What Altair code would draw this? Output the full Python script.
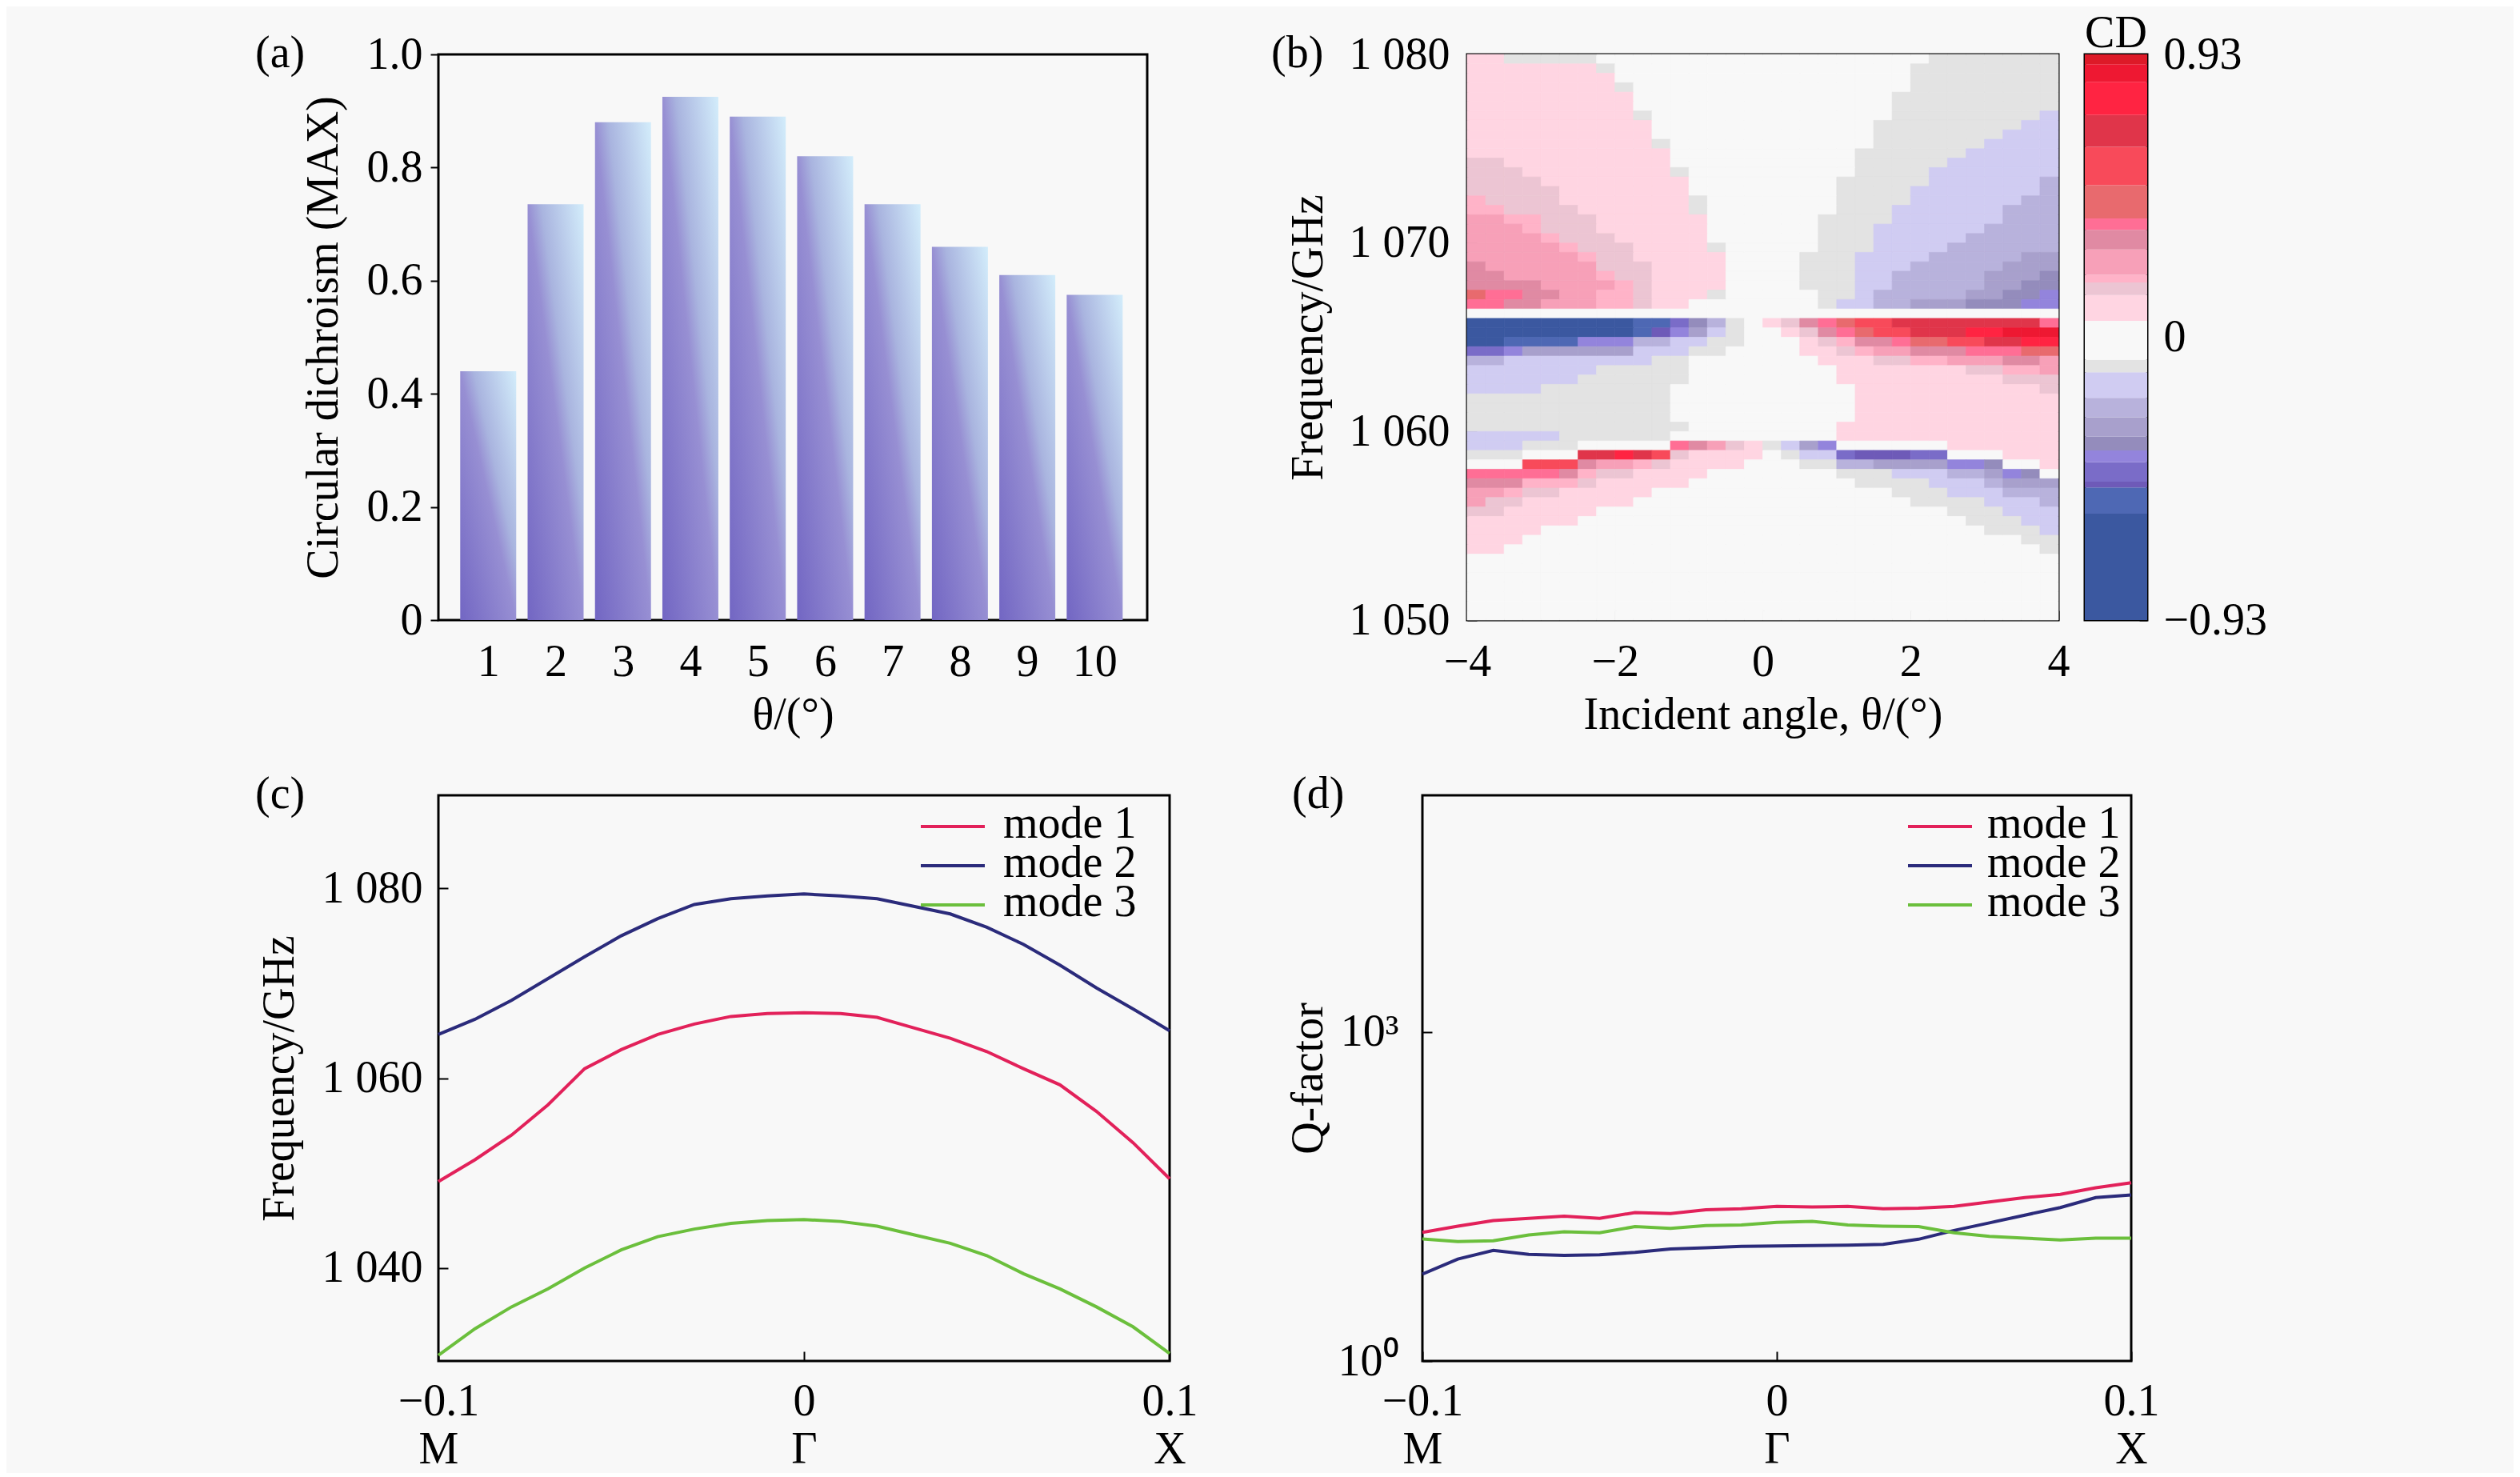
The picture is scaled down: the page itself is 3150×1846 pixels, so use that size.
import altair as alt
import pandas as pd

FONT = "Liberation Serif"
FS = 56
BG = "#f8f8f8"

# ---------------- (a) maximum circular dichroism vs angle ----------------
theta_a = [1, 2, 3, 4, 5, 6, 7, 8, 9, 10]
cd_max_a = [0.44, 0.735, 0.88, 0.925, 0.89, 0.82, 0.735, 0.66, 0.61, 0.575]
y_ticks_a = [0, 0.2, 0.4, 0.6, 0.8, 1.0]

# ---------------- (b) CD map: incident angle x frequency ----------------
theta_ticks_b = [-4, -2, 0, 2, 4]
freq_ticks_b = [1050, 1060, 1070, 1080]
cell_dtheta = 0.25     # degrees per column (32 columns from -4 to 4)
cell_dfreq = 0.5       # GHz per row (60 rows from 1080 down to 1050)
level_codes = list("cdefghijkl0LKJIHGFEDCBA")
level_values = [-0.75, -0.54, -0.485, -0.44, -0.39, -0.35, -0.295, -0.23, -0.155, -0.095,
                0.0, 0.10, 0.16, 0.19, 0.25, 0.32, 0.37, 0.45, 0.56, 0.68, 0.78, 0.87, 0.92]
# CD level, one string per row (top row = 1080 GHz)
cd_rows = [
    "LLlllll000000000" + "000000000lllllll",
    "LLLLLLLl00000000" + "00000000llllllll",
    "LLLLLLLL00000000" + "00000000llllllll",
    "LLLLLLLLl0000000" + "00000000llllllll",
    "LLLLLLLLL0000000" + "0000000lllllllll",
    "LLLLLLLLL0000000" + "0000000lllllllll",
    "LLLLLLLLLl000000" + "0000000llllllllk",
    "LLLLLLLLLL000000" + "000000llllllllkk",
    "LLLLLLLLLL000000" + "000000lllllllkkk",
    "LLLLLLLLLLl00000" + "000000llllllkkkk",
    "LLLLLLLLLLL00000" + "00000llllllkkkkk",
    "KKLLLLLLLLL00000" + "00000lllllkkkkkk",
    "KKKLLLLLLLLl0000" + "00000llllkkkkkkk",
    "KKKKLLLLLLLL0000" + "0000lllllkkkkkkj",
    "KKKKKLLLLLLL0000" + "0000llllkkkkkkkj",
    "JKKKKLLLLLLLl000" + "0000llllkkkkkkjj",
    "JJKKKKLLLLLLl000" + "0000lllkkkkkkjjj",
    "IIJJKKKLLLLLL000" + "000llllkkkkkkjjj",
    "IIIJKKKLLLLLL000" + "000lllkkkkkkjjjj",
    "IIIIJKKKLLLLL000" + "000lllkkkkkjjjjj",
    "IIIIIJKKKLLLLl00" + "000lllkkkkjjjjjj",
    "IIIIIIJKKLLLLL00" + "00lllkkkkjjjjjii",
    "HIIIIIIKKKLLLL00" + "00lllkkkjjjjjiii",
    "HHIIIIIJKKLLLL00" + "00lllkkjjjjjiiih",
    "HHHHIIIIJKLLLL00" + "00lllkkjjjjjiihh",
    "FGGHHIIJJKLLLl00" + "000llkjjjjjiihhg",
    "GGHHIIIJJKLL0000" + "000lkkjjiiihhhgg",
    "0000000000000000" + "0000000000000000",
    "cccccccccddfhjl0" + "LKHGFEEDDDDDDDDG",
    "cccccccccdegikl0" + "0LKHGFEEDDDCCBBB",
    "ccddddgggjjkkll0" + "00LKJHHGFFEEDDCC",
    "ffgiiiiiikkkll00" + "00LLKJIIHHHGGGFF",
    "jjkkkkkkkkll0000" + "000LLLKKJJIIIHHI",
    "kkkkkkklllll0000" + "0000LLLLLLLKKJJI",
    "kkkkkkllllll0000" + "0000LLLLLLLLLKKK",
    "kkkklllllll00000" + "00000LLLLLLLLLLK",
    "lllllllllll00000" + "00000LLLLLLLLLLL",
    "lllllllllll00000" + "00000LLLLLLLLLLL",
    "lllllllllll00000" + "00000LLLLLLLLLLL",
    "llllllllllll0000" + "0000LLLLLLLLLLLL",
    "kkkkkllllll00000" + "0000LLLLLLLLLLLL",
    "kkklll00000GHIKL" + "lkig000000LLLLLL",
    "lll000DDCDEKLLLL" + "0lkkfeeeff000LLL",
    "000EEEHIIJKLLLL0" + "00lljjiiiiggh00L",
    "GGGGGHJKKLLLL000" + "0000lllkkkjjigh0",
    "HHHJJJKLLLLL0000" + "00000llllkkkjiii",
    "IIJKKLLLLL000000" + "0000000lllkkkjjj",
    "IKKLLLLLL0000000" + "00000000llllkkkj",
    "KKLLLLL000000000" + "0000000000lllkkk",
    "LLLLLL0000000000" + "00000000000lllkk",
    "LLLL000000000000" + "000000000000lllk",
    "LLL0000000000000" + "00000000000000ll",
    "LL00000000000000" + "000000000000000l",
    "0000000000000000" + "0000000000000000",
    "0000000000000000" + "0000000000000000",
    "0000000000000000" + "0000000000000000",
    "0000000000000000" + "0000000000000000",
    "0000000000000000" + "0000000000000000",
    "0000000000000000" + "0000000000000000",
    "0000000000000000" + "0000000000000000",
]
cb_edges = [-0.93, -0.58, -0.494, -0.475, -0.411, -0.372, -0.327, -0.263, -0.199, -0.115, -0.074,
            0.054, 0.139, 0.18, 0.205, 0.289, 0.353, 0.391, 0.5, 0.626, 0.731, 0.84, 0.898, 0.93]
cb_colors = ["#3b58a0", "#4e68b4", "#6e5ab8", "#7a6cc8", "#9384dc", "#948cbc", "#a8a0cc", "#b8b2dc",
             "#d0ccf2", "#e3e3e3", "#f8f8f8", "#ffd5e2", "#ecc5d3", "#ffb3c8", "#f7a0b8", "#e08aa3",
             "#ff6e95", "#e86a6e", "#f84a5a", "#e0354a", "#ff2442", "#ee1832", "#dd1a28"]
cb_ticks = [-0.93, 0, 0.93]

# ---------------- (c) band frequencies, (d) Q factors ----------------
k_vals = [-0.1, -0.09, -0.08, -0.07, -0.06, -0.05, -0.04, -0.03, -0.02, -0.01, 0.0,
          0.01, 0.02, 0.03, 0.04, 0.05, 0.06, 0.07, 0.08, 0.09, 0.1]
k_ticks = [-0.1, 0, 0.1]
mode_names = ["mode 1", "mode 2", "mode 3"]
mode_colors = ["#e2215a", "#2b2b7b", "#6bbf3c"]
freq_mode1 = [1049.1, 1051.4, 1054.0, 1057.2, 1061.0, 1063.0, 1064.6, 1065.7, 1066.5, 1066.8, 1066.9,
              1066.8, 1066.4, 1065.3, 1064.2, 1062.8, 1061.0, 1059.3, 1056.5, 1053.2, 1049.4]
freq_mode2 = [1064.6, 1066.2, 1068.2, 1070.5, 1072.8, 1075.0, 1076.8, 1078.3, 1078.9, 1079.2, 1079.4,
              1079.2, 1078.9, 1078.1, 1077.3, 1075.9, 1074.1, 1071.9, 1069.5, 1067.3, 1065.0]
freq_mode3 = [1030.8, 1033.6, 1035.9, 1037.8, 1040.0, 1041.9, 1043.3, 1044.1, 1044.7, 1045.0, 1045.1,
              1044.9, 1044.4, 1043.5, 1042.6, 1041.3, 1039.4, 1037.8, 1035.9, 1033.8, 1031.0]
freq_ticks_c = [1040, 1060, 1080]
q_mode1 = [14.9, 17.0, 19.1, 20.0, 20.9, 20.0, 22.6, 22.1, 24.0, 24.5, 25.7,
           25.4, 25.7, 24.5, 24.8, 25.7, 28.2, 30.9, 33.1, 38.0, 42.3]
q_mode2 = [6.2, 8.5, 10.2, 9.4, 9.2, 9.3, 9.8, 10.5, 10.8, 11.1, 11.2,
           11.3, 11.4, 11.6, 12.9, 15.5, 18.2, 21.4, 25.1, 30.9, 32.7]
q_mode3 = [13.0, 12.3, 12.5, 14.1, 15.1, 14.8, 16.8, 16.2, 17.2, 17.4, 18.4,
           18.8, 17.4, 17.0, 16.8, 14.8, 13.7, 13.2, 12.7, 13.2, 13.2]
q_ticks = [1, 1000]

# ---------------- helpers ----------------
SPACE_FMT = "replace(format(datum.value, ','), ',', ' ')"
K_LABELS = ("datum.value < -0.05 ? ['\u22120.1', 'M'] : "
            "(datum.value > 0.05 ? ['0.1', 'X'] : ['0', '\u0393'])")


def ax(**kw):
    base = dict(labelFont=FONT, labelFontSize=FS, titleFont=FONT, titleFontSize=FS,
                titleFontWeight="normal", labelColor="black", titleColor="black",
                tickColor="black", tickWidth=2, domain=False, grid=False,
                labelFlush=False, labelOverlap=False)
    base.update(kw)
    return alt.Axis(**base)


def tag(txt, dx):
    return alt.Chart(pd.DataFrame({"t": [txt]})).mark_text(
        font=FONT, fontSize=FS, align="left", baseline="alphabetic", color="black"
    ).encode(x=alt.value(dx), y=alt.value(16), text="t:N")


mode_scale = alt.Scale(domain=mode_names, range=mode_colors)


def key_layers(x0, x1, xt):
    """Legend drawn as a small key: one line sample and one label per mode."""
    df = pd.DataFrame({"mode": mode_names})
    yk = alt.Y("mode:N", scale=alt.Scale(type="point", domain=mode_names, range=[39, 137],
                                         padding=0), axis=None)
    samples = alt.Chart(df).mark_rule(strokeWidth=4).encode(
        x=alt.value(x0), x2=alt.value(x1), y=yk,
        color=alt.Color("mode:N", scale=mode_scale, legend=None))
    labels = alt.Chart(df).mark_text(font=FONT, fontSize=FS, align="left", baseline="middle",
                                     color="black", dy=-3).encode(
        x=alt.value(xt), y=yk, text="mode:N")
    return [samples, labels]


# ---------------- panel (a) ----------------
grad = {"gradient": "linear", "x1": 0, "y1": 1, "x2": 1, "y2": 0,
        "stops": [{"offset": 0, "color": "#7266c3"},
                  {"offset": 0.5, "color": "#978fd3"},
                  {"offset": 0.62, "color": "#a9b4df"},
                  {"offset": 1, "color": "#d3edfb"}]}
df_a = pd.DataFrame({"theta": theta_a, "cd": cd_max_a})
bars = alt.Chart(df_a).mark_bar(size=70, color=grad).encode(
    x=alt.X("theta:Q", scale=alt.Scale(domain=[0.32, 10.72], nice=False, zero=False),
            axis=ax(values=theta_a, title="\u03b8/(\u00b0)", tickSize=8, offset=-8,
                    labelPadding=25, minExtent=70, maxExtent=70, titlePadding=29, format="d")),
    y=alt.Y("cd:Q", scale=alt.Scale(domain=[0, 1], nice=False),
            axis=ax(values=y_ticks_a, title="Circular dichroism (MAX)", tickSize=10,
                    labelPadding=10, minExtent=90, maxExtent=90, titlePadding=25,
                    labelExpr="datum.value == 0 ? '0' : format(datum.value, '.1f')")),
)
panel_a = alt.layer(bars, tag("(a)", -229)).properties(width=886, height=707)

# ---------------- panel (b) ----------------
code_to_value = dict(zip(level_codes, level_values))
recs = []
for r, row in enumerate(cd_rows):
    f_hi = 1080 - cell_dfreq * r
    row = row[:32].ljust(32, "0")
    for c, ch in enumerate(row):
        t_lo = -4 + cell_dtheta * c
        recs.append({"t0": t_lo, "t1": t_lo + cell_dtheta, "f0": f_hi - cell_dfreq,
                     "f1": f_hi, "cd": code_to_value.get(ch, 0.0)})
df_b = pd.DataFrame(recs)
thr = alt.Scale(type="threshold", domain=cb_edges[1:-1], range=cb_colors)
heat = alt.Chart(df_b).mark_rect(strokeWidth=0.7).encode(
    x=alt.X("t0:Q", scale=alt.Scale(domain=[-4, 4], nice=False, zero=False),
            axis=ax(values=theta_ticks_b, title="Incident angle, \u03b8/(\u00b0)", tickSize=12,
                    offset=-12, labelPadding=25, minExtent=70, maxExtent=70, titlePadding=33)),
    x2="t1:Q",
    y=alt.Y("f0:Q", scale=alt.Scale(domain=[1050, 1080], nice=False, zero=False),
            axis=ax(values=freq_ticks_b, title="Frequency/GHz", tickSize=12, offset=-12,
                    labelPadding=22, minExtent=140, maxExtent=140, titlePadding=42,
                    labelExpr=SPACE_FMT)),
    y2="f1:Q",
    color=alt.Color("cd:Q", scale=thr, legend=None),
    stroke=alt.Stroke("cd:Q", scale=thr, legend=None),
)
panel_b = alt.layer(heat, tag("(b)", -245)).properties(width=739, height=707)

df_cb = pd.DataFrame({"lo": cb_edges[:-1], "hi": cb_edges[1:], "col": cb_colors})
cbar = alt.Chart(df_cb).mark_rect().encode(
    x=alt.value(0), x2=alt.value("width"),
    y=alt.Y("lo:Q", scale=alt.Scale(domain=[-0.93, 0.93], nice=False, zero=False),
            axis=ax(orient="right", values=cb_ticks, title=None, tickSize=10, offset=-10,
                    labelPadding=20,
                    labelExpr="datum.value == 0 ? '0' : format(datum.value, '.2f')")),
    y2="hi:Q",
    color=alt.Color("col:N", scale=None),
)
cd_label = alt.Chart(pd.DataFrame({"t": ["CD"]})).mark_text(
    font=FONT, fontSize=FS, align="center", baseline="alphabetic", color="black"
).encode(x=alt.value(39), y=alt.value(-9), text="t:N")
panel_cb = alt.layer(cbar, cd_label).properties(width=78, height=707)

# ---------------- panel (c) ----------------
df_c = pd.DataFrame({"k": k_vals * 3,
                     "freq": freq_mode1 + freq_mode2 + freq_mode3,
                     "mode": [mode_names[0]] * 21 + [mode_names[1]] * 21 + [mode_names[2]] * 21})
lines_c = alt.Chart(df_c).mark_line(strokeWidth=4).encode(
    x=alt.X("k:Q", scale=alt.Scale(domain=[-0.1, 0.1], nice=False, zero=False),
            axis=ax(values=k_ticks, title=None, tickSize=12, offset=-12, labelPadding=23,
                    labelLineHeight=60, labelExpr=K_LABELS)),
    y=alt.Y("freq:Q", scale=alt.Scale(domain=[1030.2, 1089.8], nice=False, zero=False),
            axis=ax(values=freq_ticks_c, title="Frequency/GHz", tickSize=12, offset=-12,
                    labelPadding=20, minExtent=140, maxExtent=140, titlePadding=42,
                    labelExpr=SPACE_FMT)),
    color=alt.Color("mode:N", scale=mode_scale, legend=None),
)
panel_c = alt.layer(lines_c, *key_layers(603, 683, 706), tag("(c)", -229)).resolve_scale(
    y="independent").properties(width=914, height=707)

# ---------------- panel (d) ----------------
df_d = pd.DataFrame({"k": k_vals * 3,
                     "q": q_mode1 + q_mode2 + q_mode3,
                     "mode": [mode_names[0]] * 21 + [mode_names[1]] * 21 + [mode_names[2]] * 21})
lines_d = alt.Chart(df_d).mark_line(strokeWidth=4).encode(
    x=alt.X("k:Q", scale=alt.Scale(domain=[-0.1, 0.1], nice=False, zero=False),
            axis=ax(values=k_ticks, title=None, tickSize=12, offset=-12, labelPadding=23,
                    labelLineHeight=60, labelExpr=K_LABELS)),
    y=alt.Y("q:Q", scale=alt.Scale(type="log", domain=[1, 144544], nice=False),
            axis=ax(values=q_ticks, title="Q-factor", tickSize=12, offset=-12,
                    labelPadding=30, minExtent=100, maxExtent=100, titlePadding=26,
                    labelExpr="datum.value < 10 ? '10\u2070' : '10\u00b3'")),
    color=alt.Color("mode:N", scale=mode_scale, legend=None),
)
panel_d = alt.layer(lines_d, *key_layers(607, 687, 706), tag("(d)", -163)).resolve_scale(
    y="independent").properties(width=886, height=707)

# ---------------- layout ----------------
right_top = alt.hconcat(panel_b, panel_cb, spacing=33, bounds="flush").resolve_scale(
    color="independent", stroke="independent").resolve_legend(color="independent")
top = alt.hconcat(panel_a, right_top, spacing=400, bounds="flush").resolve_scale(
    color="independent", stroke="independent").resolve_legend(color="independent")
bottom = alt.hconcat(panel_c, panel_d, spacing=316, bounds="flush").resolve_scale(
    color="independent").resolve_legend(color="independent")

chart = alt.vconcat(top, bottom, spacing=40).resolve_scale(
    color="independent", stroke="independent").resolve_legend(color="independent").properties(
    background=BG, padding={"left": 309, "top": 4, "right": 306, "bottom": 0}
).configure(font=FONT).configure_view(stroke="black", strokeWidth=3)

chart.save("out.html", embed_options={"renderer": "svg", "actions": False})
